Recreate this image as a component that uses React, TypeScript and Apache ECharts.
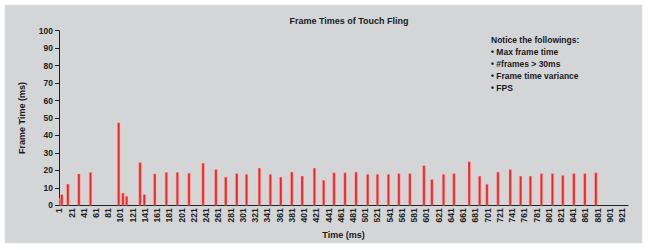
import React, { useEffect, useRef } from "react";
import * as echarts from "echarts";

const chartTitle = "Frame Times of Touch Fling";
const yAxisName = "Frame Time (ms)";
const xAxisName = "Time (ms)";
const noticeTitle = "Notice the followings:";
const noticeItems = ["• Max frame time", "• #frames > 30ms", "• Frame time variance", "• FPS"];

const axisLength = 930;
const categories = Array.from({ length: axisLength }, (_, i) => String(i + 1));

const frameTimes = [
  1, 5, 15, 33, 52, 98, 105, 111, 133, 140, 157, 176, 194, 213,
  236, 257, 273, 291, 307, 328, 346, 363, 381, 398, 418, 433, 450,
  468, 486, 505, 521, 539, 556, 574, 597, 610, 629, 646, 671, 688, 700,
  718, 738, 755, 771, 789, 807, 824, 842, 860, 878,
];
const frameDurations = [
  4.0, 6.3, 12.3, 18.1, 19.0, 47.4, 7.2, 5.3, 24.6, 6.3, 18.1, 19.0, 19.0, 18.5,
  24.3, 20.6, 16.3, 18.3, 17.9, 21.5, 17.9, 16.3, 19.2, 16.9, 21.5, 14.5, 18.8,
  18.8, 19.2, 17.9, 17.9, 17.9, 18.3, 18.3, 22.9, 14.9, 17.9, 18.3, 25.1, 16.9, 12.2,
  19.2, 20.6, 16.9, 16.9, 18.3, 18.3, 17.3, 18.3, 18.3, 18.8,
];

const FONT = "Liberation Sans, Arial, sans-serif";

export default function App() {
  const ref = useRef<HTMLDivElement>(null);
  useEffect(() => {
    if (!ref.current) return;
    const chart = echarts.init(ref.current, undefined, { renderer: "svg" });
    const seriesData: (number | string)[] = categories.map(() => "-");
    frameTimes.forEach((t, i) => {
      seriesData[t - 1] = frameDurations[i];
    });
    const noticeGraphics = [noticeTitle, ...noticeItems].map((txt, i) => ({
      type: "text",
      left: 491,
      top: 35 + i * 12.2,
      style: {
        text: txt,
        fill: "#1a1a1a",
        font: `bold 8.5px ${FONT}`,
      },
      z: 10,
    }));
    chart.setOption({
      animation: false,
      backgroundColor: "#ffffff",
      title: {
        text: chartTitle,
        left: 344,
        textAlign: "center",
        top: 11,
        textStyle: { fontFamily: FONT, fontSize: 9, fontWeight: "bold", color: "#1a1a1a" },
      },
      graphic: [
        {
          type: "rect",
          shape: { x: 5, y: 5, width: 637, height: 238 },
          style: { fill: "#d3d5d7", stroke: "#e4e5e7", lineWidth: 1 },
          z: -10,
          silent: true,
        },
        ...noticeGraphics,
      ],
      grid: { left: 59, right: 22, top: 30.7, bottom: 44.7, containLabel: false },
      xAxis: {
        type: "category",
        data: categories,
        boundaryGap: true,
        name: xAxisName,
        nameLocation: "middle",
        nameGap: 24,
        nameTextStyle: { fontFamily: FONT, fontSize: 9, fontWeight: "bold", color: "#1a1a1a" },
        axisLine: { lineStyle: { color: "#222", width: 1 } },
        axisTick: { show: false },
        axisLabel: {
          interval: 19,
          rotate: 90,
          margin: 3,
          fontFamily: FONT,
          fontSize: 8.5,
          fontWeight: "bold",
          color: "#222",
        },
        splitLine: { show: false },
      },
      yAxis: {
        type: "value",
        min: 0,
        max: 100,
        interval: 10,
        name: yAxisName,
        nameLocation: "middle",
        nameGap: 33,
        nameTextStyle: { fontFamily: FONT, fontSize: 9, fontWeight: "bold", color: "#1a1a1a" },
        axisLine: { show: true, lineStyle: { color: "#222", width: 1 } },
        axisTick: { show: true, length: 4, lineStyle: { color: "#222" } },
        axisLabel: { margin: 6, fontFamily: FONT, fontSize: 8.5, fontWeight: "bold", color: "#222" },
        splitLine: { show: false },
      },
      series: [
        {
          type: "bar",
          data: seriesData,
          barWidth: 3,
          itemStyle: { color: "#f22424", borderColor: "rgba(255,170,170,0.9)", borderWidth: 0.5 },
        },
      ],
    });
    return () => chart.dispose();
  }, []);
  return (
    <div
      ref={ref}
      style={{ position: "fixed", left: 0, top: 0, width: 650, height: 250 }}
    />
  );
}
